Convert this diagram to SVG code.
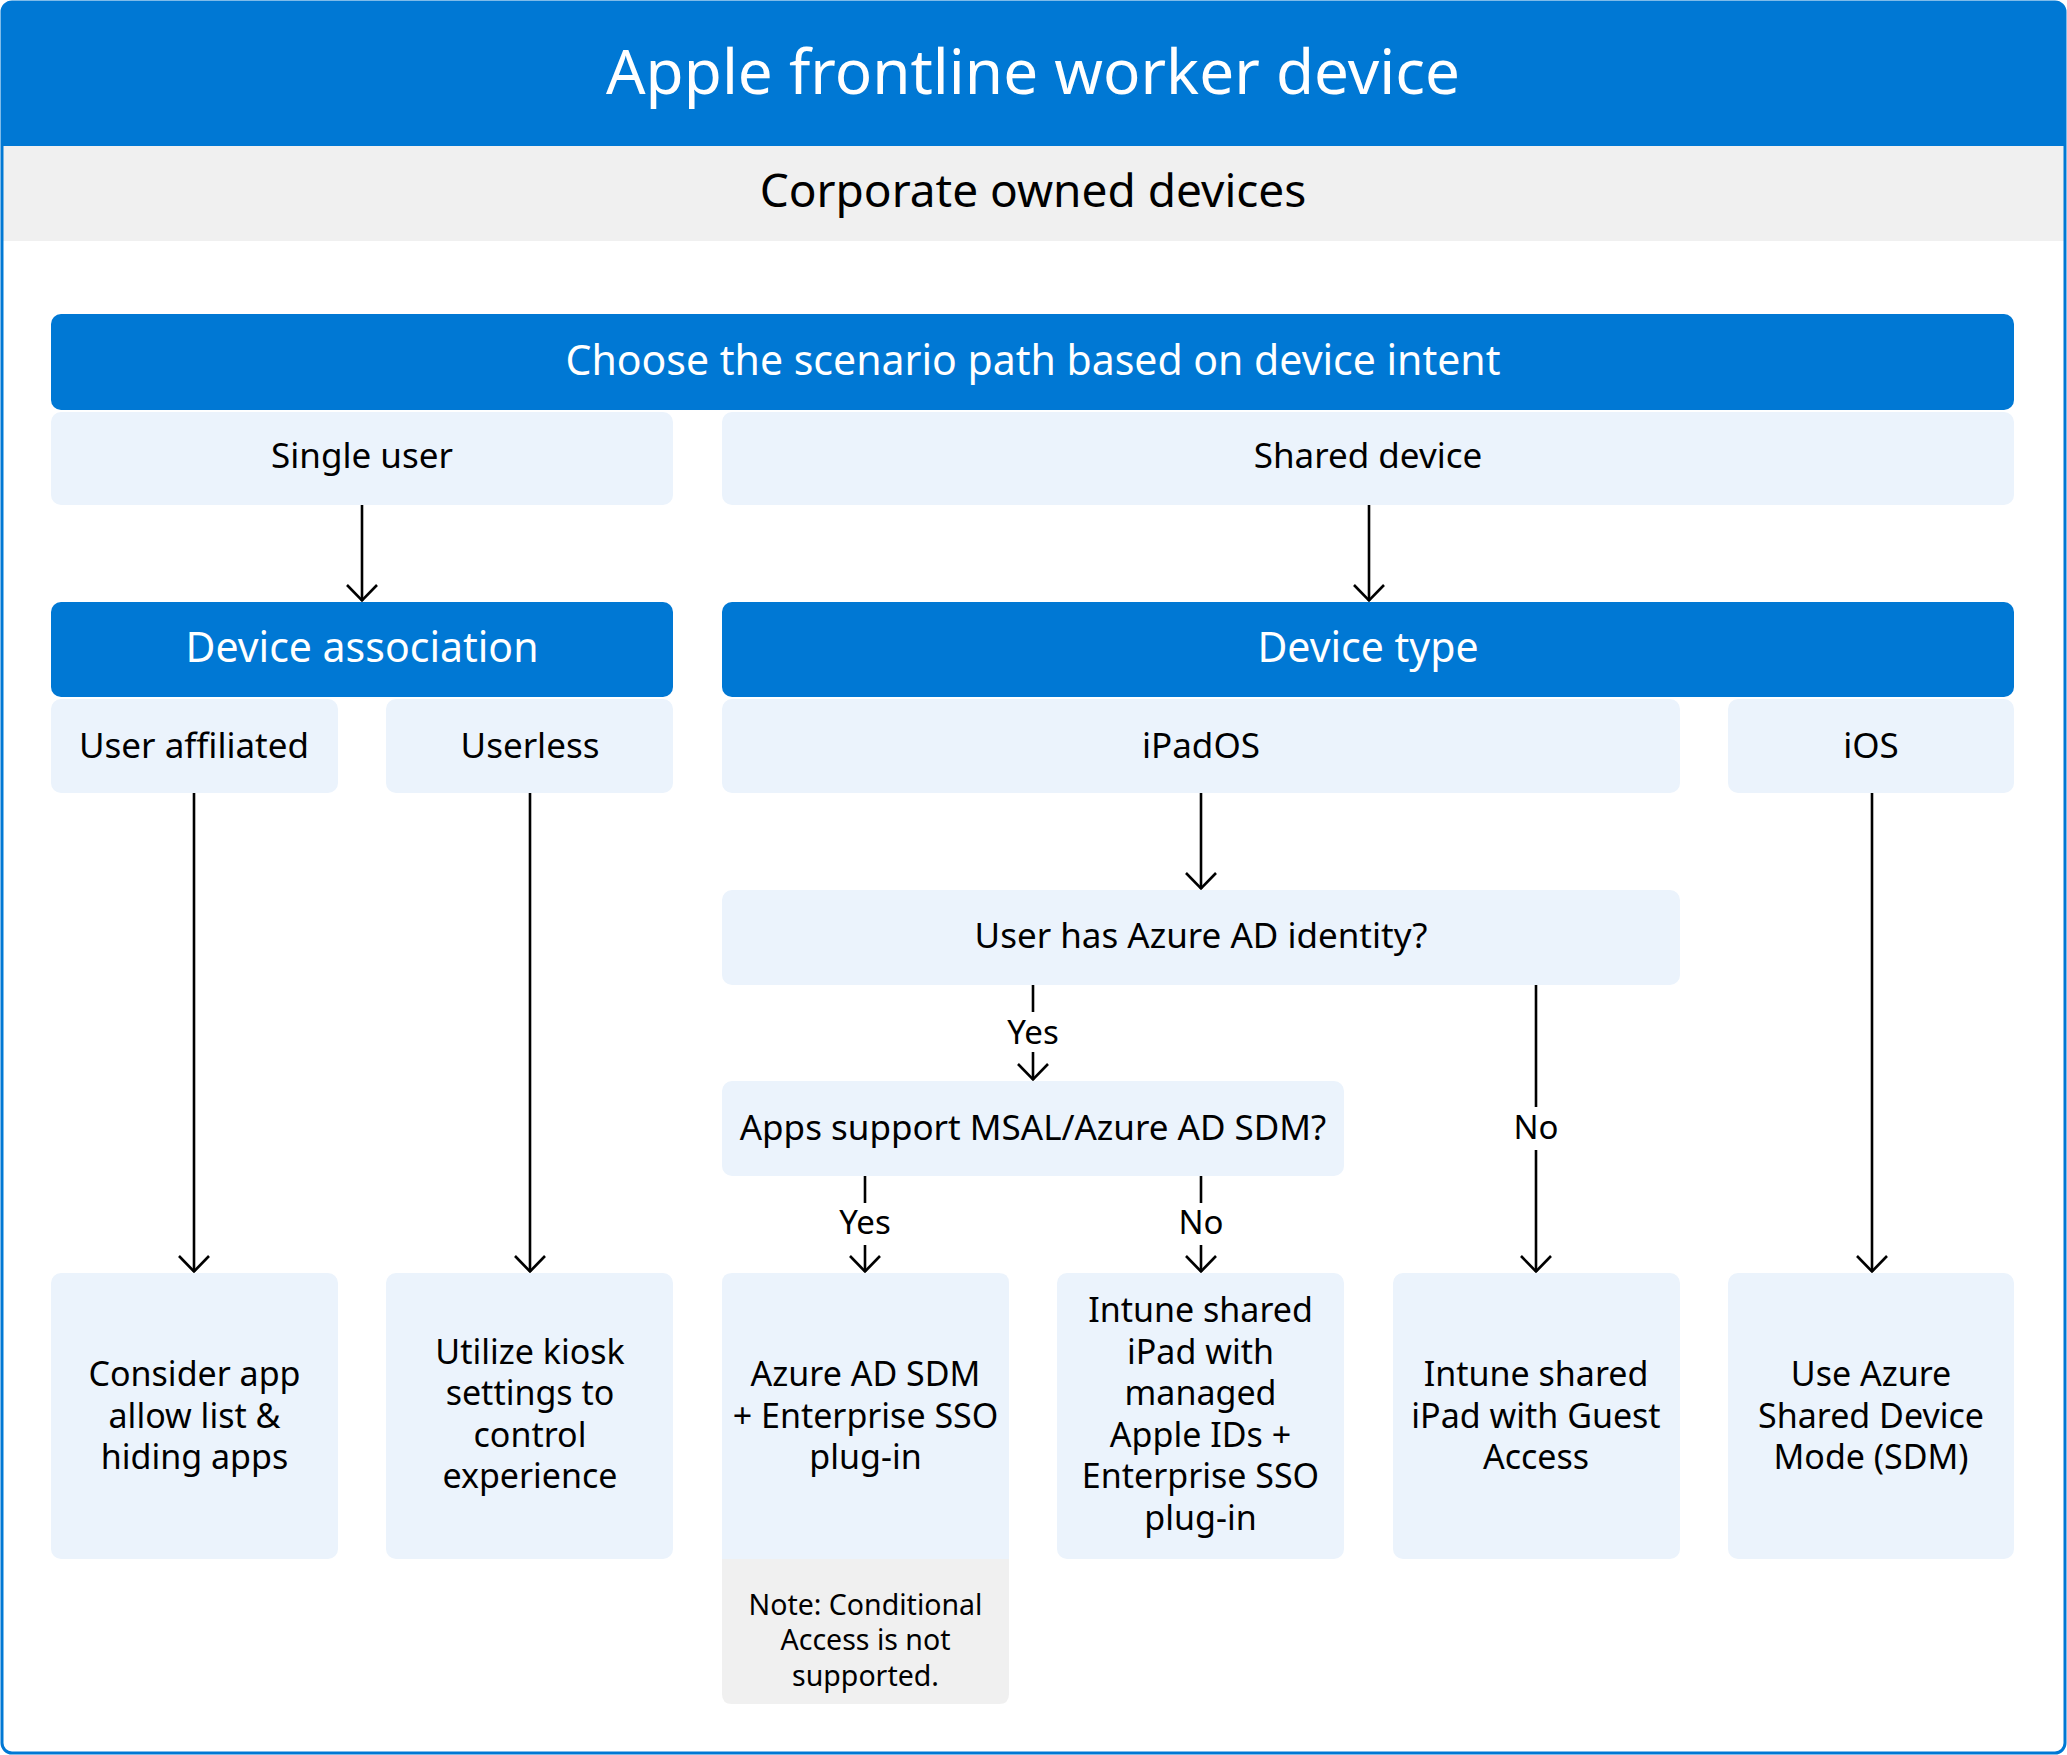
<svg xmlns="http://www.w3.org/2000/svg" width="2067" height="1755" viewBox="0 0 2067 1755">
<defs>
<style>
text{font-family:"Noto Sans","Open Sans","DejaVu Sans",sans-serif;text-anchor:middle;fill:#000}
.hd{fill:#0078d4}
.lt{fill:#ebf3fc}
.gy{fill:#f0f0f0}
.wt{fill:#fff}
.t36{font-size:35px}
.t34{font-size:34px}
.t41{font-size:41px}
.lbl{font-size:33px}
.note{font-size:28.5px}
.ln{stroke:#000;stroke-width:2.6;fill:none}
</style>
<marker id="arr" viewBox="0 0 20 34" refX="18" refY="17" markerWidth="20" markerHeight="34" markerUnits="userSpaceOnUse" orient="auto">
<path d="M2,2 L17.5,17 L2,32" fill="none" stroke="#000" stroke-width="2.6"/>
</marker>
</defs>
<rect x="0" y="0" width="2067" height="1755" fill="#fff"/>
<g id="frame">
<path class="hd" d="M12,2 H2055 Q2065,2 2065,12 V146 H2 V12 Q2,2 12,2 Z"/>
<rect class="gy" x="3" y="146" width="2061" height="95"/>
<rect x="2" y="2" width="2063" height="1751" rx="10" fill="none" stroke="#0078d4" stroke-width="3"/>
<text class="wt" x="1033" y="94" style="font-size:62px;fill:#fff">Apple frontline worker device</text>
<text x="1033" y="207" style="font-size:46px">Corporate owned devices</text>
</g>
<g id="connectors">
<line class="ln" x1="362" y1="505" x2="362" y2="601" marker-end="url(#arr)"/>
<line class="ln" x1="1369" y1="505" x2="1369" y2="601" marker-end="url(#arr)"/>
<line class="ln" x1="194" y1="793" x2="194" y2="1272" marker-end="url(#arr)"/>
<line class="ln" x1="530" y1="793" x2="530" y2="1272" marker-end="url(#arr)"/>
<line class="ln" x1="1201" y1="793" x2="1201" y2="889" marker-end="url(#arr)"/>
<line class="ln" x1="1872" y1="793" x2="1872" y2="1272" marker-end="url(#arr)"/>
<line class="ln" x1="1033" y1="985" x2="1033" y2="1012"/>
<line class="ln" x1="1033" y1="1052" x2="1033" y2="1080" marker-end="url(#arr)"/>
<text class="lbl" x="1033" y="1044">Yes</text>
<line class="ln" x1="865" y1="1176" x2="865" y2="1203"/>
<line class="ln" x1="865" y1="1245" x2="865" y2="1272" marker-end="url(#arr)"/>
<text class="lbl" x="865" y="1234">Yes</text>
<line class="ln" x1="1201" y1="1176" x2="1201" y2="1203"/>
<line class="ln" x1="1201" y1="1245" x2="1201" y2="1272" marker-end="url(#arr)"/>
<text class="lbl" x="1201" y="1234">No</text>
<line class="ln" x1="1536" y1="985" x2="1536" y2="1107"/>
<line class="ln" x1="1536" y1="1150" x2="1536" y2="1272" marker-end="url(#arr)"/>
<text class="lbl" x="1536" y="1139">No</text>
</g>
<g id="choose">
<rect class="hd" x="51" y="314" width="1963" height="96" rx="10"/>
<text class="t41" x="1033" y="375" style="fill:#fff">Choose the scenario path based on device intent</text>
</g>
<g id="single-user">
<rect class="lt" x="51" y="412" width="622" height="93" rx="10"/>
<text class="t36" x="362" y="468">Single user</text>
</g>
<g id="shared-device">
<rect class="lt" x="722" y="412" width="1292" height="93" rx="10"/>
<text class="t36" x="1368" y="468">Shared device</text>
</g>
<g id="device-association">
<rect class="hd" x="51" y="602" width="622" height="95" rx="10"/>
<text class="t41" x="362" y="662" style="fill:#fff">Device association</text>
</g>
<g id="device-type">
<rect class="hd" x="722" y="602" width="1292" height="95" rx="10"/>
<text class="t41" x="1368" y="662" style="fill:#fff">Device type</text>
</g>
<g id="user-affiliated">
<rect class="lt" x="51" y="699" width="287" height="94" rx="10"/>
<text class="t36" x="194" y="758">User affiliated</text>
</g>
<g id="userless">
<rect class="lt" x="386" y="699" width="287" height="94" rx="10"/>
<text class="t36" x="530" y="758">Userless</text>
</g>
<g id="ipados">
<rect class="lt" x="722" y="699" width="958" height="94" rx="10"/>
<text class="t36" x="1201" y="758">iPadOS</text>
</g>
<g id="ios">
<rect class="lt" x="1728" y="699" width="286" height="94" rx="10"/>
<text class="t36" x="1871" y="758">iOS</text>
</g>
<g id="azure-identity">
<rect class="lt" x="722" y="890" width="958" height="95" rx="10"/>
<text class="t36" x="1201" y="948">User has Azure AD identity?</text>
</g>
<g id="apps-support">
<rect class="lt" x="722" y="1081" width="622" height="95" rx="10"/>
<text class="t36" x="1033" y="1140">Apps support MSAL/Azure AD SDM?</text>
</g>
<g id="consider-app">
<rect class="lt" x="51" y="1273" width="287" height="286" rx="10"/>
<text class="t34" x="194.5"><tspan x="194.5" y="1386">Consider app</tspan><tspan x="194.5" y="1428">allow list &amp;</tspan><tspan x="194.5" y="1469">hiding apps</tspan></text>
</g>
<g id="kiosk">
<rect class="lt" x="386" y="1273" width="287" height="286" rx="10"/>
<text class="t34" x="530"><tspan x="530" y="1364">Utilize kiosk</tspan><tspan x="530" y="1405">settings to</tspan><tspan x="530" y="1447">control</tspan><tspan x="530" y="1488">experience</tspan></text>
</g>
<g id="azure-sdm">
<path class="gy" d="M722,1559 H1009 V1694 Q1009,1704 999,1704 H732 Q722,1704 722,1694 Z"/>
<path class="lt" d="M732,1273 H999 Q1009,1273 1009,1283 V1559 H722 V1283 Q722,1273 732,1273 Z"/>
<text class="t34" x="865.5"><tspan x="865.5" y="1386">Azure AD SDM</tspan><tspan x="865.5" y="1428">+ Enterprise SSO</tspan><tspan x="865.5" y="1469">plug-in</tspan></text>
<text class="note" x="865.5"><tspan x="865.5" y="1615">Note: Conditional</tspan><tspan x="865.5" y="1650">Access is not</tspan><tspan x="865.5" y="1686">supported.</tspan></text>
</g>
<g id="managed-apple-ids">
<rect class="lt" x="1057" y="1273" width="287" height="286" rx="10"/>
<text class="t34" x="1200.5"><tspan x="1200.5" y="1322">Intune shared</tspan><tspan x="1200.5" y="1364">iPad with</tspan><tspan x="1200.5" y="1405">managed</tspan><tspan x="1200.5" y="1447">Apple IDs +</tspan><tspan x="1200.5" y="1488">Enterprise SSO</tspan><tspan x="1200.5" y="1530">plug-in</tspan></text>
</g>
<g id="guest-access">
<rect class="lt" x="1393" y="1273" width="287" height="286" rx="10"/>
<text class="t34" x="1536"><tspan x="1536" y="1386">Intune shared</tspan><tspan x="1536" y="1428">iPad with Guest</tspan><tspan x="1536" y="1469">Access</tspan></text>
</g>
<g id="use-sdm">
<rect class="lt" x="1728" y="1273" width="286" height="286" rx="10"/>
<text class="t34" x="1871"><tspan x="1871" y="1386">Use Azure</tspan><tspan x="1871" y="1428">Shared Device</tspan><tspan x="1871" y="1469">Mode (SDM)</tspan></text>
</g>
</svg>
